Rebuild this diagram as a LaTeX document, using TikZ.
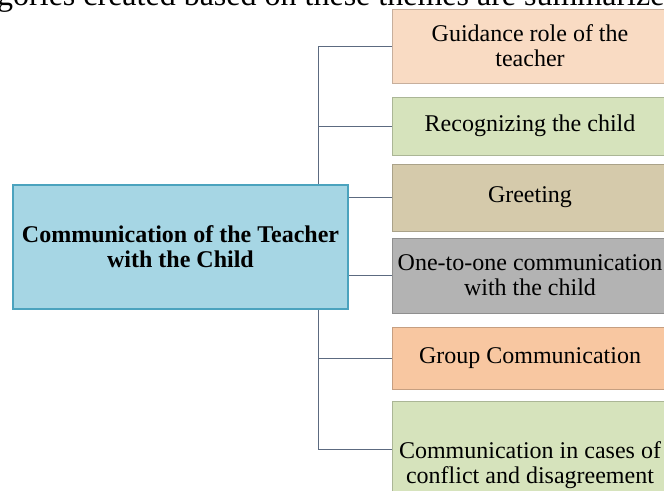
\documentclass[tikz,border=0pt]{standalone}
\usepackage{fontspec}
\setmainfont{Liberation Serif}

\definecolor{mainblue}{HTML}{A6D6E4}
\definecolor{mainedge}{HTML}{4BA3BE}
\definecolor{guidecol}{HTML}{F9DBC3}
\definecolor{recogcol}{HTML}{D6E3BC}
\definecolor{greetcol}{HTML}{D5CAAB}
\definecolor{onecol}{HTML}{B3B3B3}
\definecolor{groupcol}{HTML}{F8C7A1}
\definecolor{conflcol}{HTML}{D6E3BC}
\definecolor{linegray}{HTML}{5C6A80}

\tikzset{
    theme/.style={draw=#1!80!black, fill=#1, line width=0.5pt, minimum width=276pt,
        align=center, inner sep=2pt, font=\fontsize{24}{25}\selectfont},
    branch/.style={draw=linegray, line width=1pt},
}

\begin{document}
\begin{tikzpicture}[x=1pt, y=-1pt]
        \useasboundingbox (0,0) rectangle (664,490);

        % line of running text cut by the figure
        \node[anchor=base west, inner sep=0, font=\fontsize{32}{32}\selectfont] (caption) at (-3,5) {gories created based on these themes are summarized};

        % themes
        \node[theme=guidecol, minimum height=74pt] (guide) at (530,46) {Guidance role of the\\teacher};
        \node[theme=recogcol, minimum height=58pt] (recog) at (530,126) {Recognizing the child};
        \node[theme=greetcol, minimum height=67pt] (greet) at (530,197.5) {Greeting};
        \node[theme=onecol, minimum height=75pt] (onetoone) at (530,275.5) {One-to-one communication\\with the child};
        \node[theme=groupcol, minimum height=62pt] (group) at (530,358) {Group Communication};
        \node[theme=conflcol, minimum height=128pt] (conflict) at (530,465) {Communication in cases of\\conflict and disagreement};

        % tree lines
        \coordinate (trunk) at (318,0);
        \coordinate (conflink) at ([yshift=16pt]conflict.west);
        \foreach \b in {guide, recog, greet, onetoone, group} {
            \draw[branch] (\b.west -| trunk) -- (\b.west);
        }
        \draw[branch] (conflink -| trunk) -- (conflink);
        \draw[branch] (guide.west -| trunk) -- (conflink -| trunk);

        \node[draw=mainedge, fill=mainblue, line width=1.2pt, minimum width=335pt, minimum height=124pt,
            align=center, font=\bfseries\fontsize{24}{25}\selectfont] (main) at (180.5,247) {Communication of the Teacher\\with the Child};
    \end{tikzpicture}
\end{document}
